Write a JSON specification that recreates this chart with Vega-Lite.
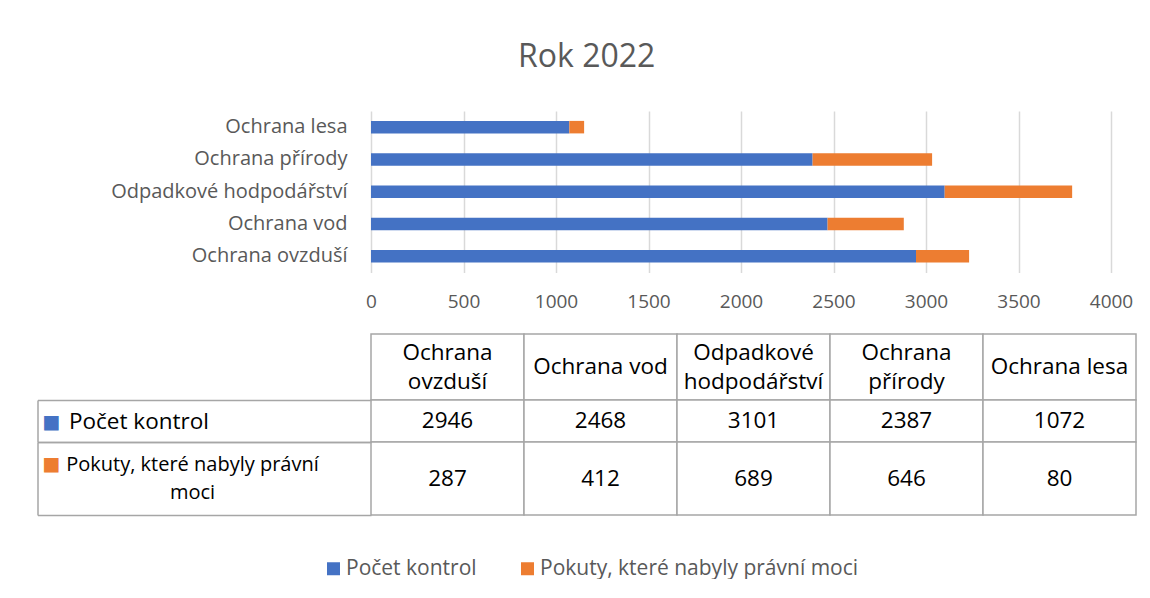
{
  "$schema": "https://vega.github.io/schema/vega-lite/v6.json",
  "padding": {"left": 36, "top": 41, "right": 0, "bottom": 0},
  "background": "white",
  "title": {"text": "Rok 2022", "anchor": "middle", "fontSize": 32, "fontWeight": "normal", "color": "#595959", "font": "Open Sans", "offset": 37},
  "config": {
    "view": {"stroke": null},
    "font": "Open Sans"
  },
  "datasets": {
    "d": [
      {"category": "Ochrana ovzduší", "series": "Počet kontrol", "value": 2946},
      {"category": "Ochrana vod", "series": "Počet kontrol", "value": 2468},
      {"category": "Odpadkové hodpodářství", "series": "Počet kontrol", "value": 3101},
      {"category": "Ochrana přírody", "series": "Počet kontrol", "value": 2387},
      {"category": "Ochrana lesa", "series": "Počet kontrol", "value": 1072},
      {"category": "Ochrana ovzduší", "series": "Pokuty, které nabyly právní moci", "value": 287},
      {"category": "Ochrana vod", "series": "Pokuty, které nabyly právní moci", "value": 412},
      {"category": "Odpadkové hodpodářství", "series": "Pokuty, které nabyly právní moci", "value": 689},
      {"category": "Ochrana přírody", "series": "Pokuty, které nabyly právní moci", "value": 646},
      {"category": "Ochrana lesa", "series": "Pokuty, které nabyly právní moci", "value": 80}
    ]
  },
  "bounds": "flush",
  "spacing": 61,
  "vconcat": [
    {
      "width": 740,
      "height": 161.5,
      "data": {"name": "d"},
      "mark": {"type": "bar"},
      "encoding": {
        "y": {
          "field": "category", "type": "nominal",
          "sort": ["Ochrana lesa", "Ochrana přírody", "Odpadkové hodpodářství", "Ochrana vod", "Ochrana ovzduší"],
          "scale": {"paddingInner": 0.613, "paddingOuter": 0.3065},
          "axis": {"title": null, "ticks": false, "domain": false, "labelPadding": 24, "labelFontSize": 20, "labelColor": "#595959", "labelFont": "Open Sans", "labelLimit": 400, "labelExpr": "datum.label === 'Odpadkové hodpodářství' ? datum.label + '\u00a0' : datum.label"}
        },
        "x": {
          "aggregate": "sum", "field": "value", "type": "quantitative", "stack": "zero",
          "scale": {"domain": [0, 4000], "nice": false},
          "axis": {"title": null, "values": [0, 500, 1000, 1500, 2000, 2500, 3000, 3500, 4000], "format": "d", "ticks": false, "domain": false, "grid": true, "gridColor": "#D9D9D9", "gridWidth": 1.5, "labelPadding": 20, "labelFontSize": 19, "labelColor": "#595959", "labelFont": "Open Sans", "labelFlush": false}
        },
        "color": {
          "field": "series", "type": "nominal",
          "scale": {"domain": ["Počet kontrol", "Pokuty, které nabyly právní moci"], "range": ["#4472C4", "#ED7D31"]},
          "legend": {"title": null, "orient": "none", "legendX": -48, "legendY": 447, "direction": "horizontal", "symbolType": "square", "symbolSize": 169, "symbolStrokeWidth": 0, "labelFontSize": 21, "labelColor": "#595959", "labelFont": "Open Sans", "labelOffset": 2, "columnPadding": 40, "labelLimit": 500, "padding": 0}
        },
        "order": {"field": "series", "sort": "descending"}
      }
    },
    {
      "bounds": "flush",
      "spacing": 0,
      "vconcat": [
        {
          "width": 765,
          "height": 66,
          "data": {"name": "d"},
          "transform": [
            {"filter": "datum.series === 'Počet kontrol'"},
            {"calculate": "length(datum.category) > 12 ? split(datum.category, ' ') : datum.category", "as": "header"}
          ],
          "encoding": {
            "x": {
              "field": "category", "type": "nominal",
              "sort": ["Ochrana ovzduší", "Ochrana vod", "Odpadkové hodpodářství", "Ochrana přírody", "Ochrana lesa"],
              "scale": {"paddingInner": 0, "paddingOuter": 0},
              "axis": null
            }
          },
          "layer": [
            {"mark": {"type": "rect", "fill": "white", "stroke": "#A6A6A6", "strokeWidth": 1.5}},
            {"mark": {"type": "text", "fontSize": 22.5, "font": "Open Sans", "color": "#000000", "baseline": "middle", "lineHeight": 28.5, "dy": {"expr": "isArray(datum.header) ? -14 : 0"}}, "encoding": {"text": {"field": "header"}}}
          ]
        },
        {
          "width": 765,
          "height": 42,
          "data": {"name": "d"},
          "transform": [{"filter": "datum.series === 'Počet kontrol'"}],
          "encoding": {
            "x": {
              "field": "category", "type": "nominal",
              "sort": ["Ochrana ovzduší", "Ochrana vod", "Odpadkové hodpodářství", "Ochrana přírody", "Ochrana lesa"],
              "scale": {"paddingInner": 0, "paddingOuter": 0},
              "axis": null
            },
            "y": {
              "field": "series", "type": "nominal",
              "scale": {"paddingInner": 0, "paddingOuter": 0},
              "axis": {
                "orient": "left", "offset": 333.5, "grid": false,
                "domain": true, "domainColor": "#A6A6A6", "domainWidth": 1.5,
                "ticks": true, "tickBand": "extent", "tickSize": -333.5, "tickColor": "#A6A6A6", "tickWidth": 1.5,
                "labelExpr": "datum.label ? '■' : ''", "labelColor": "#4472C4", "labelFont": "DejaVu Sans", "labelFontSize": 19, "labelAlign": "center", "labelBaseline": "middle", "labelPadding": 320,
                "title": "Počet kontrol", "titleAngle": 0, "titleAlign": "left", "titleBaseline": "middle", "titleX": 31, "titleY": 21, "titleFontSize": 22.5, "titleFontWeight": "normal", "titleColor": "#000000", "titleFont": "Open Sans"
              }
            }
          },
          "layer": [
            {"mark": {"type": "rect", "fill": "white", "stroke": "#A6A6A6", "strokeWidth": 1.5}},
            {"mark": {"type": "text", "fontSize": 22.5, "font": "Open Sans", "color": "#000000", "baseline": "middle"}, "encoding": {"text": {"field": "value", "type": "quantitative", "format": "d"}}}
          ]
        },
        {
          "width": 765,
          "height": 73,
          "data": {"name": "d"},
          "transform": [{"filter": "datum.series === 'Pokuty, které nabyly právní moci'"}],
          "encoding": {
            "x": {
              "field": "category", "type": "nominal",
              "sort": ["Ochrana ovzduší", "Ochrana vod", "Odpadkové hodpodářství", "Ochrana přírody", "Ochrana lesa"],
              "scale": {"paddingInner": 0, "paddingOuter": 0},
              "axis": null
            },
            "y": {
              "field": "series", "type": "nominal",
              "scale": {"paddingInner": 0, "paddingOuter": 0},
              "axis": {
                "orient": "left", "offset": 333.5, "grid": false,
                "domain": true, "domainColor": "#A6A6A6", "domainWidth": 1.5,
                "ticks": true, "tickBand": "extent", "tickSize": -333.5, "tickColor": "#A6A6A6", "tickWidth": 1.5,
                "labelExpr": "datum.label ? '■' : ''", "labelColor": "#ED7D31", "labelFont": "DejaVu Sans", "labelFontSize": 19, "labelAlign": "center", "labelBaseline": "middle", "labelPadding": 320, "labelOffset": -15.5,
                "title": ["Pokuty, které nabyly právní", "moci"], "titleAngle": 0, "titleAlign": "center", "titleBaseline": "middle", "titleX": 154.5, "titleY": 22.5, "titleLineHeight": 28, "titleFontSize": 20, "titleFontWeight": "normal", "titleColor": "#000000", "titleFont": "Open Sans"
              }
            }
          },
          "layer": [
            {"mark": {"type": "rect", "fill": "white", "stroke": "#A6A6A6", "strokeWidth": 1.5}},
            {"mark": {"type": "text", "fontSize": 22.5, "font": "Open Sans", "color": "#000000", "baseline": "middle"}, "encoding": {"text": {"field": "value", "type": "quantitative", "format": "d"}}}
          ]
        }
      ]
    }
  ]
}
